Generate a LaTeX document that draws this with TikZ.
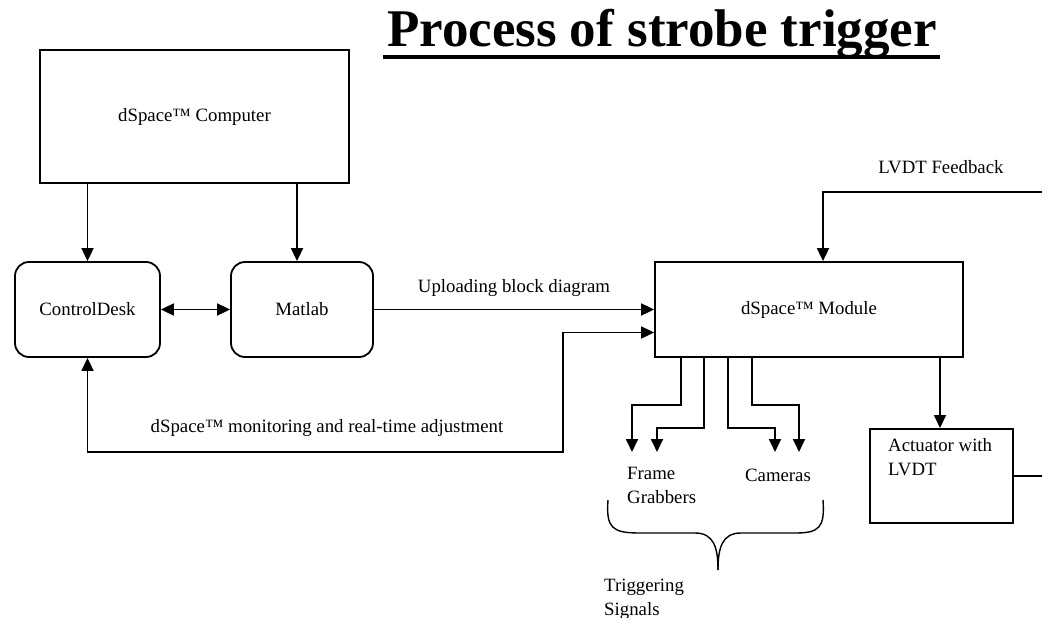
\documentclass[tikz,border=0pt]{standalone}
\usepackage{fontspec}
\setmainfont{Liberation Serif}
\usetikzlibrary{arrows.meta,calc}
\begin{document}
\begin{tikzpicture}[x=1pt,y=-1pt,
  every node/.style={font=\fontsize{18.8}{24}\selectfont},
  box/.style={draw,line width=1.8pt,inner sep=0pt},
  rbox/.style={box,rounded corners=14pt},
  conn/.style={line width=1.8pt,-{Triangle[width=12pt,length=13pt]}},
  dconn/.style={line width=1.8pt,{Triangle[width=12pt,length=13pt]}-{Triangle[width=12pt,length=13pt]}},
  line/.style={line width=1.8pt},
  lbl/.style={inner sep=0pt}]
\useasboundingbox (0,0) rectangle (1042,618);
% title
\node[lbl,anchor=base,font=\fontsize{53}{60}\selectfont\bfseries] (title) at (662,47) {Process of strobe trigger};
\draw[line width=4pt] (383,57) coordinate (ul1) -- (940,57) coordinate (ul2);
% boxes
\node[box,minimum width=309,minimum height=133] (comp) at (194.5,116.5) {dSpace™ Computer};
\node[rbox,minimum width=145,minimum height=95] (cd) at (87.5,309.5) {ControlDesk};
\node[rbox,minimum width=142,minimum height=95] (mat) at (302,309.5) {Matlab};
\node[box,minimum width=308,minimum height=95] (mod) at (809,309.5) {dSpace™ Module};
\node[box,minimum width=143,minimum height=94,anchor=north west] (act) at (869,428) {};
\node[lbl,anchor=north west,align=left] (actl) at (888,438) {Actuator with\\LVDT};
% computer to controldesk / matlab
\draw[conn] (comp.south -| cd.south) -- (cd.north);
\draw[conn] (comp.south -| 297,0) -- (mat.north -| 297,0);
\draw[dconn] (cd.east) -- (mat.west);
% uploading
\draw[conn] (mat.east) -- node[lbl,above=12pt] (upl) {Uploading block diagram} (mod.west);
% monitoring
\coordinate (m1) at (563,452);
\draw[dconn] (cd.south) |- (m1) |- ([yshift=-23pt]mod.west);
\node[lbl] (mon) at (327,428) {dSpace™ monitoring and real-time adjustment};
% LVDT feedback
\coordinate (fb0) at (1042,192);
\draw[conn] (fb0) -| (mod.north -| 823,0);
\node[lbl] (fbl) at (941,167) {LVDT Feedback};
% module to actuator
\draw[conn] (mod.south -| 940,0) -- (act.north -| 940,0);
\coordinate (a1) at (1042,476);
\draw[line] (act.east |- a1) -- (a1);
% trigger lines
\coordinate (t1) at (632,452);
\coordinate (t2) at (657,452);
\coordinate (t3) at (775,452);
\coordinate (t4) at (799,452);
\draw[conn] (mod.south -| 681,0) -- (681,405) -| (t1);
\draw[conn] (mod.south -| 704,0) -- (704,428) -| (t2);
\draw[conn] (mod.south -| 728,0) -- (728,428) -| (t3);
\draw[conn] (mod.south -| 752,0) -- (752,405) -| (t4);
\node[lbl,anchor=west,align=left] (fg) at (627,485) {Frame\\Grabbers};
\node[lbl] (cam) at (778,475) {Cameras};
% brace
\draw[line width=1.4pt] (608,500) .. controls (606,528) and (612,533) .. (640,533) -- (695,533) .. controls (714,533) and (718,548) .. (718,570);
\draw[line width=1.4pt] (823,500) .. controls (825,528) and (819,533) .. (795,533) -- (741,533) .. controls (722,533) and (718,548) .. (718,570);
\node[lbl,anchor=west,align=left] (trig) at (604,599) {Triggering\\Signals};
\end{tikzpicture}
\end{document}
